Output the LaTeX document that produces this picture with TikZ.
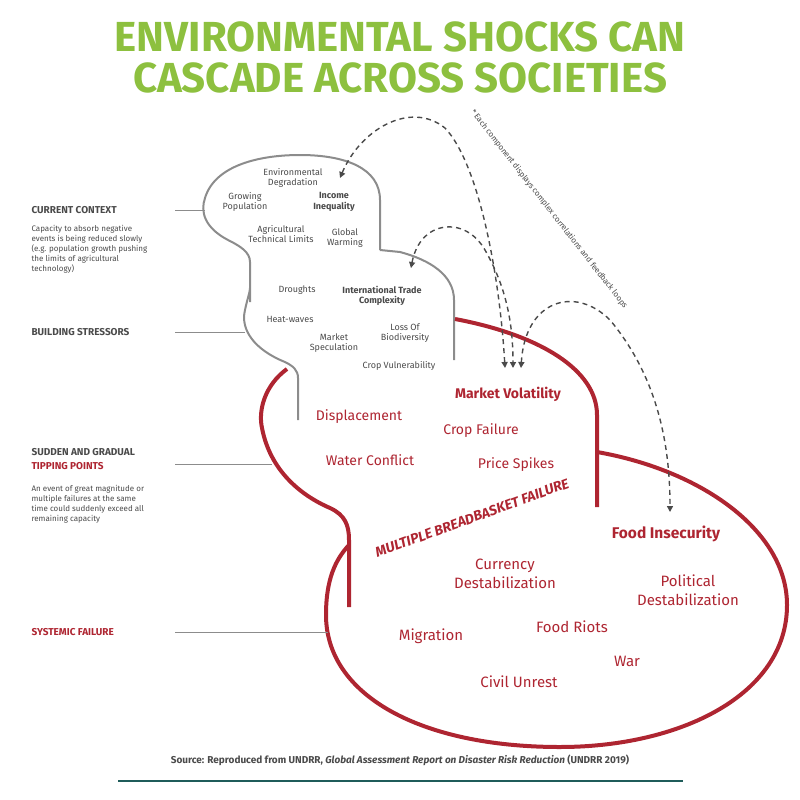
\documentclass[tikz,border=0pt]{standalone}
\usepackage{fontspec}
\setmainfont{Fira Sans}
\newfontfamily\robo{Fira Sans}
\usetikzlibrary{arrows.meta}
\definecolor{tgreen}{HTML}{8DC03F}
\definecolor{tred}{HTML}{AE2531}
\definecolor{tgray}{HTML}{8C8C8C}
\definecolor{ttext}{HTML}{4A4A4A}
\definecolor{tteal}{HTML}{1F5C5A}
\begin{document}
\begin{tikzpicture}[x=1pt,y=-1pt,
  gs/.style={draw=tgray,line width=2pt},
  rs/.style={draw=tred,line width=4pt},
  gt/.style={font=\robo\fontsize{9}{10.5}\selectfont,text=ttext,align=center},
  gb/.style={gt,font=\robo\bfseries\fontsize{9}{10.5}\selectfont},
  rt/.style={font=\robo\fontsize{14}{16}\selectfont,text=tred,align=center},
  rb/.style={rt,font=\robo\bfseries\fontsize{14}{16}\selectfont},
  lab/.style={font=\robo\bfseries\fontsize{10}{12}\selectfont,text=ttext,anchor=west},
  desc/.style={font=\robo\fontsize{8}{10}\selectfont,text=ttext,anchor=north west,align=left},
  ll/.style={draw=tgray,line width=0.8pt},
  da/.style={draw=ttext,line width=1.4pt,dash pattern=on 5pt off 4pt,{Triangle[length=6pt,width=6pt]}-{Triangle[length=6pt,width=6pt]}}
]
\useasboundingbox (0,0) rectangle (800,800);
% title
\node[font=\bfseries\fontsize{42}{44}\selectfont,text=tgreen] (t1) at (400,37) {ENVIRONMENTAL SHOCKS CAN};
\node[font=\bfseries\fontsize{42}{44}\selectfont,text=tgreen] (t2) at (400,78) {CASCADE ACROSS SOCIETIES};
% gray shapes
\draw[gs] (250,302) -- (250,262) .. controls (250,252) and (240,246) .. (228,240)
  .. controls (205,228) and (200,212) .. (205,198)
  .. controls (215,165) and (260,155) .. (300,155)
  .. controls (345,155) and (380,168) .. (380,200) -- (380,250);
\draw[gs] (380,250) -- (400,252) .. controls (430,260) and (454,275) .. (454,300) -- (454,360);
\draw[gs] (298,420) -- (298,378) .. controls (298,370) and (293,366) .. (285,362)
  .. controls (255,350) and (240,330) .. (245,310)
  .. controls (247,300) and (250,292) .. (250,288);
% red shapes
\draw[rs] (455,319) .. controls (540,335) and (597,370) .. (597,415) -- (597,507);
\draw[rs] (287,369) .. controls (265,385) and (258,410) .. (262,428)
  .. controls (270,470) and (300,495) .. (330,508)
  .. controls (345,515) and (349,525) .. (349,540) -- (349,607);
\draw[rs] (597,452) .. controls (700,470) and (787,530) .. (787,605)
  .. controls (787,695) and (680,747) .. (560,747)
  .. controls (420,747) and (326,695) .. (326,615)
  .. controls (326,580) and (335,560) .. (349,545);
% left labels
\node[lab] (cc) at (28,210) {CURRENT CONTEXT};
\node[desc] (ccd) at (28,222) {Capacity to absorb negative\\events is being reduced slowly\\(e.g. population growth pushing\\the limits of agricultural\\technology)};
\coordinate (c1) at (205,210);
\draw[ll] (175,210) -- (c1);
\node[lab] (bs) at (28,332) {BUILDING STRESSORS};
\coordinate (c2) at (245,332);
\draw[ll] (175,332) -- (c2);
\node[lab] (sg) at (28,452) {SUDDEN AND GRADUAL};
\node[lab,text=tred] (tp) at (28,466) {TIPPING POINTS};
\node[desc] (tpd) at (28,482) {An event of great magnitude or\\multiple failures at the same\\time could suddenly exceed all\\remaining capacity};
\coordinate (c3) at (272,464);
\draw[ll] (175,464) -- (c3);
\node[lab,text=tred] (sf) at (28,632) {SYSTEMIC FAILURE};
\coordinate (c4) at (328,632);
\draw[ll] (175,632) -- (c4);
% gray texts
\node[gt] (ed) at (293,178) {Environmental\\Degradation};
\node[gt] (gp) at (245,202) {Growing\\Population};
\node[gb] (ii) at (334,202) {Income\\Inequality};
\node[gt] (at) at (281,234) {Agricultural\\Technical Limits};
\node[gt] (gw) at (345,238) {Global\\Warming};
\node[gt] (dr) at (297,290) {Droughts};
\node[gb] (itc) at (382,296) {International Trade\\Complexity};
\node[gt] (hw) at (290,319) {Heat-waves};
\node[gt] (ms) at (334,343) {Market\\Speculation};
\node[gt] (lb) at (405,333) {Loss Of\\Biodiversity};
\node[gt] (cv) at (399,366) {Crop Vulnerability};
% red texts
\node[rb] (mv) at (508,394) {Market Volatility};
\node[rt] (dp) at (359,417) {Displacement};
\node[rt] (cf) at (481,431) {Crop Failure};
\node[rt] (wc) at (370,460) {Water Conflict};
\node[rt] (ps) at (516,465) {Price Spikes};
\node[rb,font=\robo\bfseries\itshape\fontsize{14}{16}\selectfont,rotate=20] (mbf) at (472,518) {MULTIPLE BREADBASKET FAILURE};
\node[rb,font=\robo\bfseries\fontsize{15.5}{17}\selectfont] (fi) at (666,534) {Food Insecurity};
\node[rt,font=\robo\fontsize{15}{19}\selectfont] (cd) at (505,574) {Currency\\Destabilization};
\node[rt,font=\robo\fontsize{15}{19}\selectfont] (pd) at (688,590) {Political\\Destabilization};
\node[rt,font=\robo\fontsize{15}{19}\selectfont] (mg) at (431,636) {Migration};
\node[rt,font=\robo\fontsize{15}{19}\selectfont] (fr) at (572,627) {Food Riots};
\node[rt,font=\robo\fontsize{15}{19}\selectfont] (war) at (627,661) {War};
\node[rt,font=\robo\fontsize{15}{19}\selectfont] (cu) at (519,682) {Civil Unrest};
% dashed arcs
\coordinate (a1) at (340,178); \coordinate (a2) at (505,368);
\coordinate (b1) at (411,268); \coordinate (b2) at (513,368);
\coordinate (e1) at (670,512); \coordinate (e2) at (521,368);
\draw[da] (a1) .. controls (360,130) and (410,100) .. (445,128) .. controls (480,165) and (500,280) .. (a2);
\draw[da] (b1) .. controls (420,220) and (465,215) .. (485,250) .. controls (505,285) and (513,320) .. (b2);
\draw[da] (e2) .. controls (525,300) and (575,285) .. (610,320) .. controls (660,380) and (670,450) .. (e1);
\node[font=\robo\fontsize{8}{9}\selectfont,text=ttext,rotate=-52,anchor=west] (note) at (470,108) {* Each component displays complex correlations and feedback loops};
% source
\node[font=\robo\fontsize{10}{12}\selectfont,text=ttext] (src) at (400,760) {\textbf{Source: Reproduced from UNDRR, \textit{Global Assessment Report on Disaster Risk Reduction} (UNDRR 2019)}};
\coordinate (s1) at (118,781); \coordinate (s2) at (683,781);
\draw[tteal,line width=1.2pt] (s1) -- (s2);
\end{tikzpicture}
\end{document}
